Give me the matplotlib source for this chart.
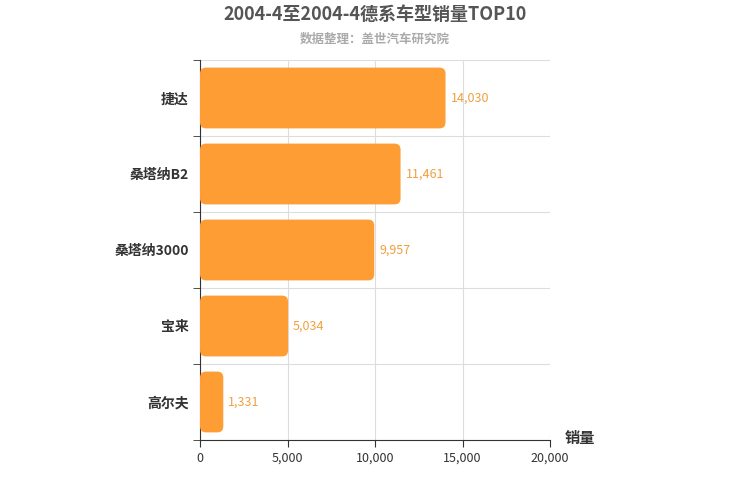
import matplotlib
matplotlib.use("Agg")
import matplotlib.pyplot as plt
from matplotlib.patches import FancyBboxPatch

plt.rcParams['font.family'] = ['Noto Sans CJK SC']

categories = ["捷达", "桑塔纳B2", "桑塔纳3000", "宝来", "高尔夫"]
values = [14030, 11461, 9957, 5034, 1331]
xticks = [0, 5000, 10000, 15000, 20000]
xticklabels = ["0", "5,000", "10,000", "15,000", "20,000"]

fig = plt.figure(figsize=(7.5, 5), dpi=100)
ax = fig.add_axes([200/750, 60/500, 350/750, 380/500])
n = len(categories)
ax.set_xlim(0, 20000)
ax.set_ylim(-0.5, n - 0.5)
color = "#FF9D35"
h = 0.8
px_x = 20000/350
px_y = n/380
for i, (c, v) in enumerate(zip(categories, values)):
    y = n - 1 - i
    p = FancyBboxPatch((0, y - h/2), v, h,
                       boxstyle="round,pad=0,rounding_size=%f" % (6*px_x),
                       mutation_aspect=px_y/px_x, fc=color, ec="none", zorder=3)
    ax.add_patch(p)
    ax.text(v + 5*px_x, y, f"{v:,}", va="center", ha="left", color="#F0A040", fontsize=9, zorder=4)

ax.set_yticks(range(n))
ax.set_yticklabels(categories[::-1], fontsize=10, fontweight="bold", color="#333")
ax.set_yticks([k - 0.5 for k in range(n + 1)], minor=True)
ax.tick_params(axis="y", which="major", length=0, pad=8)
ax.tick_params(axis="y", which="minor", length=5, color="#333")
ax.set_xticks(xticks)
ax.set_xticklabels(xticklabels, fontsize=9, color="#333")
ax.tick_params(axis="x", length=5, color="#333")
ax.grid(True, axis="x", color="#ddd", lw=0.8, zorder=0)
ax.grid(True, axis="y", which="minor", color="#ddd", lw=0.8, zorder=0)
for s in ["top", "right"]:
    ax.spines[s].set_visible(False)
ax.spines["left"].set_color("#333")
ax.spines["bottom"].set_color("#333")

fig.text(0.5, 1 - 14/500, "2004-4至2004-4德系车型销量TOP10", ha="center", va="center",
         fontsize=13, fontweight="bold", color="#555")
fig.text(0.5, 1 - 39/500, "数据整理：盖世汽车研究院", ha="center", va="center",
         fontsize=9, fontweight="bold", color="#aaa")
fig.text(565/750, 1 - 438/500, "销量", ha="left", va="center", fontsize=11, fontweight="bold", color="#333")

fig.savefig("out.png", dpi=100)
